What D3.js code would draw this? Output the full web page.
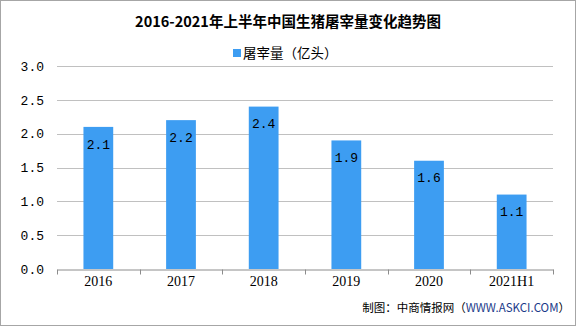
<!DOCTYPE html>
<html>
<head>
<meta charset="utf-8">
<script src="https://cdn.jsdelivr.net/npm/d3@7/dist/d3.min.js"></script>
<style>
  body { margin: 0; background: #fff; }
  svg { display: block; }
</style>
</head>
<body>
<svg id="chart" width="576" height="326"></svg>
<script>
// data
const categories = ['2016', '2017', '2018', '2019', '2020', '2021H1'];
const slaughter = [2.1, 2.2, 2.4, 1.9, 1.6, 1.1];
const yTicks = [0, 0.5, 1.0, 1.5, 2.0, 2.5, 3.0];

const W = 576, H = 326;
const m = { left: 57, right: 23, top: 66, bottom: 57 };
const BAR = '#3d9df2';

const svg = d3.select('#chart');

// outer border
svg.append('rect')
  .attr('x', 0.5).attr('y', 0.5)
  .attr('width', W - 1).attr('height', H - 1)
  .attr('fill', '#fff').attr('stroke', '#a6a6a6');

const x = d3.scaleBand()
  .domain(categories)
  .range([m.left, W - m.right])
  .paddingInner(0.64).paddingOuter(0.32);

const y = d3.scaleLinear()
  .domain([0, 3])
  .range([H - m.bottom, m.top]);

// gridlines
svg.append('g')
  .selectAll('line')
  .data(yTicks.filter(d => d > 0))
  .join('line')
  .attr('x1', m.left).attr('x2', W - m.right)
  .attr('y1', d => Math.round(y(d)) + 0.5)
  .attr('y2', d => Math.round(y(d)) + 0.5)
  .attr('stroke', '#c0c0c0');

// y labels
svg.append('g')
  .selectAll('text')
  .data(yTicks)
  .join('text')
  .attr('x', m.left - 13)
  .attr('y', d => y(d))
  .attr('dy', '0.36em')
  .attr('text-anchor', 'end')
  .attr('font-family', '"Liberation Mono", monospace')
  .attr('font-size', 13)
  .attr('fill', '#000')
  .text(d => d.toFixed(1));

// bars
svg.append('g')
  .selectAll('rect')
  .data(categories)
  .join('rect')
  .attr('x', d => x(d))
  .attr('width', x.bandwidth())
  .attr('y', (d, i) => y(slaughter[i]))
  .attr('height', (d, i) => y(0) - y(slaughter[i]))
  .attr('fill', BAR);

// value labels inside bar tops
svg.append('g')
  .selectAll('text')
  .data(categories)
  .join('text')
  .attr('x', d => x(d) + x.bandwidth() / 2)
  .attr('y', (d, i) => y(slaughter[i]) + 17)
  .attr('dy', '0.36em')
  .attr('text-anchor', 'middle')
  .attr('font-family', '"Liberation Mono", monospace')
  .attr('font-size', 13)
  .attr('fill', '#000')
  .text((d, i) => slaughter[i].toFixed(1));

// x axis
const xAxis = svg.append('g')
  .attr('transform', `translate(0,${Math.round(y(0)) + 0.5})`)
  .call(d3.axisBottom(x).tickSize(0).tickPadding(7));
xAxis.select('.domain').attr('stroke', '#8c8c8c');
xAxis.selectAll('text')
  .attr('font-family', '"Liberation Serif", serif')
  .attr('font-size', 14)
  .attr('fill', '#000');

// tick marks at band boundaries
const bounds = d3.range(categories.length + 1).map(i => m.left + i * (W - m.left - m.right) / categories.length);
xAxis.selectAll('.bound')
  .data(bounds)
  .join('line')
  .attr('class', 'bound')
  .attr('x1', d => Math.round(d) + 0.5).attr('x2', d => Math.round(d) + 0.5)
  .attr('y1', 0).attr('y2', 5)
  .attr('stroke', '#8c8c8c');

// title
svg.append('text')
  .attr('x', 288).attr('y', 27)
  .attr('text-anchor', 'middle')
  .attr('font-family', '"Noto Sans CJK SC", sans-serif')
  .attr('font-weight', 'bold')
  .attr('font-size', 14.5)
  .attr('fill', '#000')
  .text('2016-2021年上半年中国生猪屠宰量变化趋势图');

// legend
const leg = svg.append('g').attr('transform', 'translate(233,53)');
leg.append('rect')
  .attr('x', 0).attr('y', -4).attr('width', 8).attr('height', 8)
  .attr('fill', BAR);
leg.append('text')
  .attr('x', 10).attr('y', 0).attr('dy', '0.36em')
  .attr('font-family', '"Noto Sans CJK SC", sans-serif')
  .attr('font-size', 13.5)
  .attr('fill', '#000')
  .text('屠宰量（亿头）');

// source
svg.append('text')
  .attr('x', 570).attr('y', 312)
  .attr('text-anchor', 'end')
  .attr('font-family', '"Noto Sans CJK SC", sans-serif')
  .attr('font-size', 11.5)
  .attr('fill', '#000')
  .text('制图：中商情报网（')
  .append('tspan').attr('fill', '#1a3a8a').text('WWW.ASKCI.COM')
  .select(function () { return this.parentNode; })
  .append('tspan').attr('fill', '#000').text('）');
</script>
</body>
</html>
